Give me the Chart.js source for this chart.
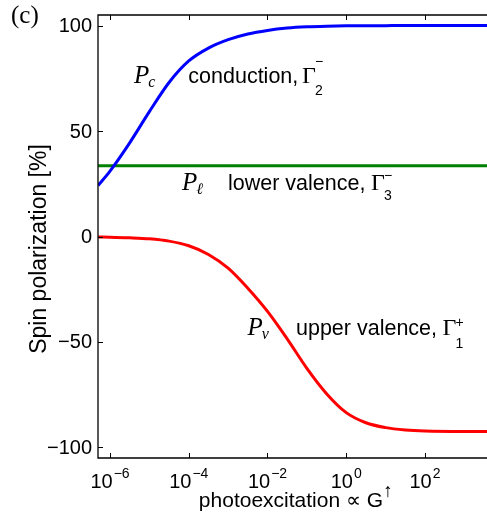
<!DOCTYPE html>
<html>
<head>
<meta charset="utf-8">
<script src="https://cdn.jsdelivr.net/npm/chart.js@4/dist/chart.umd.min.js"></script>
<style>
  html, body { margin: 0; padding: 0; background: #fff; overflow: hidden; }
  canvas { display: block; }
</style>
</head>
<body>
<canvas id="spinChart" width="487" height="521"></canvas>
<script>
// photoexcitation (log axis) sample positions
const excitation = [5e-7, 1e-6, 3.16e-6, 1e-5, 3.16e-5, 1e-4, 3.16e-4, 1e-3, 3.16e-3, 1e-2,
                    3.16e-2, 1e-1, 3.16e-1, 1, 3.16, 10, 31.6, 100, 1000, 3800];
const conductionPc = [24.2, 31, 44.4, 59.2, 73, 83.2, 89.3, 93.3, 96.0, 97.7,
                      98.8, 99.4, 99.7, 99.85, 99.9, 99.95, 100, 100, 100, 100];
const lowerValencePl = [33.5, 33.5, 33.5, 33.5, 33.5, 33.5, 33.5, 33.5, 33.5, 33.5,
                        33.5, 33.5, 33.5, 33.5, 33.5, 33.5, 33.5, 33.5, 33.5, 33.5];
const upperValencePv = [-0.2, -0.3, -0.6, -1.1, -2.2, -4.4, -8.5, -15, -24.5, -35.5,
                        -48.5, -62.5, -74.5, -83.5, -88.3, -90.6, -91.7, -92.2, -92.4, -92.4];
const xTicks = [1e-6, 1e-4, 1e-2, 1, 1e2];
const xTickExp = ['\u22126', '\u22124', '\u22122', '0', '2'];
const yTicks = [-100, -50, 0, 50, 100];

const sans = '"Liberation Sans", Arial, sans-serif';
const serif = '"Liberation Serif", "Times New Roman", serif';

function pairs(ys) {
    return excitation.map((x, i) => ({ x: x, y: ys[i] }));
}

const framePlugin = {
    id: 'frame',
    afterDraw(chart) {
        const ctx = chart.ctx;
        const a = chart.chartArea;
        const xs = chart.scales.x;
        const ys = chart.scales.y;
        ctx.save();
        ctx.strokeStyle = '#000';
        ctx.lineWidth = 1.3;
        ctx.beginPath();
        ctx.moveTo(chart.width, a.top);
        ctx.lineTo(a.left, a.top);
        ctx.lineTo(a.left, a.bottom);
        ctx.lineTo(chart.width, a.bottom);
        ctx.stroke();

        ctx.lineWidth = 1;
        ctx.beginPath();
        yTicks.forEach(v => {
            const py = Math.round(ys.getPixelForValue(v)) + 0.5;
            ctx.moveTo(a.left, py);
            ctx.lineTo(a.left + 5, py);
        });
        xTicks.forEach(v => {
            const px = Math.round(xs.getPixelForValue(v)) + 0.5;
            ctx.moveTo(px, a.bottom);
            ctx.lineTo(px, a.bottom - 5);
            ctx.moveTo(px, a.top);
            ctx.lineTo(px, a.top + 5);
        });
        ctx.stroke();

        ctx.fillStyle = '#000';
        // y tick labels
        ctx.font = '20px ' + sans;
        ctx.textAlign = 'right';
        ctx.textBaseline = 'middle';
        yTicks.forEach(v => {
            const txt = v < 0 ? '\u2212' + Math.abs(v) : String(v);
            ctx.fillText(txt, a.left - 6, ys.getPixelForValue(v) + 1);
        });

        // x tick labels 10^n
        ctx.textAlign = 'left';
        ctx.textBaseline = 'alphabetic';
        xTicks.forEach((v, i) => {
            ctx.font = '20px ' + sans;
            const wb = ctx.measureText('10').width;
            ctx.font = '14px ' + sans;
            const we = ctx.measureText(xTickExp[i]).width;
            const x0 = xs.getPixelForValue(v) - (wb + we + 1) / 2;
            ctx.font = '20px ' + sans;
            ctx.fillText('10', x0, 488);
            ctx.font = '14px ' + sans;
            ctx.fillText(xTickExp[i], x0 + wb + 1, 478);
        });

        // axis titles
        ctx.font = '21px ' + sans;
        const t1 = 'photoexcitation \u221d G';
        const w1 = ctx.measureText(t1).width;
        const tx = 296 - (w1 + 10) / 2;
        ctx.fillText(t1, tx, 506.5);
        ctx.font = '19px ' + sans;
        ctx.fillText('\u2191', tx + w1, 497);

        ctx.save();
        ctx.translate(46, 249);
        ctx.rotate(-Math.PI / 2);
        ctx.font = '23px ' + sans;
        ctx.textAlign = 'center';
        ctx.fillText('Spin polarization [%]', 0, 0);
        ctx.restore();

        // panel tag
        ctx.font = '25px ' + serif;
        ctx.fillText('(c)', 11, 22.5);

        // curve labels
        function label(px, py, sub, subDy, text, tx, gx, sup, supY, idx, idxY) {
            ctx.font = 'italic 25px ' + serif;
            ctx.fillText('P', px, py);
            const wp = ctx.measureText('P').width;
            ctx.font = 'italic 16px ' + serif;
            ctx.fillText(sub, px + wp - 1, py + subDy);
            ctx.font = '21.5px ' + sans;
            ctx.fillText(text, tx, py);
            ctx.font = '24px ' + serif;
            ctx.fillText('\u0393', gx, py);
            const wg = ctx.measureText('\u0393').width;
            ctx.font = '14px ' + sans;
            ctx.fillText(sup, gx + wg - 1, supY);
            ctx.fillText(idx, gx + wg - 1, idxY);
        }
        label(134, 83.3, 'c', 4, 'conduction,', 188.3, 302, '\u2212', 66, '2', 95);
        label(182, 189.5, '\u2113', 4, 'lower valence,', 228, 371, '\u2212', 179.5, '3', 200);
        label(247.5, 335, 'v', 4, 'upper valence,', 296, 442.5, '+', 327, '1', 348);

        ctx.restore();
    }
};

new Chart(document.getElementById('spinChart'), {
    type: 'line',
    data: {
        datasets: [
            { label: 'Pc', data: pairs(conductionPc), borderColor: '#0000ff' },
            { label: 'Pl', data: pairs(lowerValencePl), borderColor: '#008000' },
            { label: 'Pv', data: pairs(upperValencePv), borderColor: '#ff0000' }
        ]
    },
    options: {
        responsive: false,
        animation: false,
        devicePixelRatio: 1,
        layout: { padding: { left: 98, top: 15, right: 0, bottom: 63 } },
        elements: {
            line: { borderWidth: 3, cubicInterpolationMode: 'monotone', fill: false },
            point: { radius: 0 }
        },
        plugins: { legend: { display: false }, tooltip: { enabled: false } },
        scales: {
            x: { type: 'logarithmic', min: Math.pow(10, -6.305), max: Math.pow(10, 3.575), display: false },
            y: { type: 'linear', min: -105, max: 105, display: false }
        }
    },
    plugins: [framePlugin]
});
</script>
</body>
</html>
